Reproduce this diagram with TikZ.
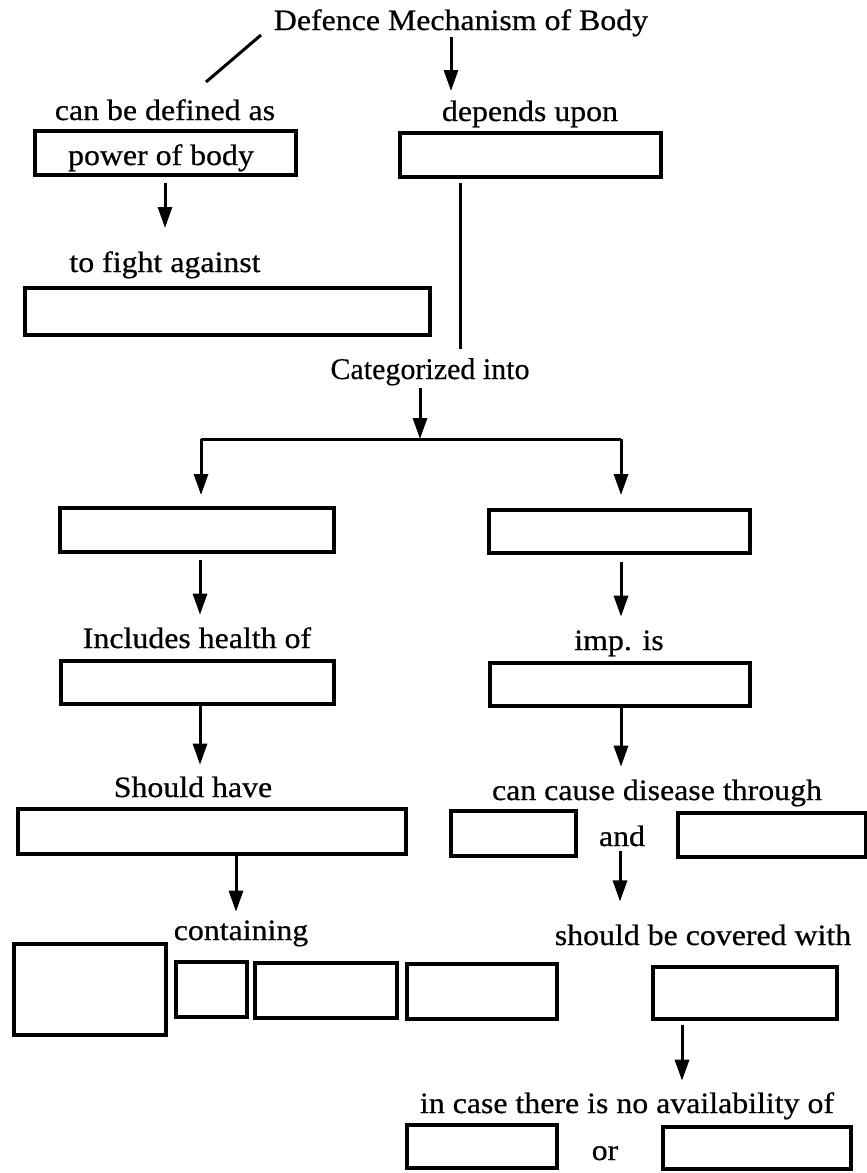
\documentclass[tikz,border=0pt]{standalone}
\usepackage{fontspec}
\setmainfont{Liberation Serif}[FakeStretch=1.08, FakeBold=0.6]
\newfontfamily\catfont{Liberation Serif}[FakeStretch=1.0, FakeBold=0.4]
\usetikzlibrary{arrows.meta}

\tikzset{
  box/.style={draw, line width=3.4pt, inner sep=0pt, minimum width=#1},
  lbl/.style={inner sep=0pt, anchor=base, font=\fontsize{29.5}{33}\selectfont},
  catlbl/.style={inner sep=0pt, anchor=base, font=\catfont\fontsize{30}{33}\selectfont},
  link/.style={line width=3pt},
  arr/.style={line width=3pt, -{Triangle[length=21pt,width=14pt]}},
}

\begin{document}
\begin{tikzpicture}[x=1pt, y=-1pt]
  % page frame
  \fill[white] (0,0) rectangle (867,1173);
  \useasboundingbox (0,0) rectangle (867,1173);

  % ---- top of the map ----
  \node[lbl] (title) at (461,30) {Defence Mechanism of Body};
  \node[lbl] (defl) at (165,120) {can be defined as};
  \node[lbl] (depl) at (530,121) {depends upon};
  \node[box=261pt, minimum height=44pt] (power) at (165.5,153) {};
  \node[lbl] (powert) at (161,165) {power of body};
  \node[box=261pt, minimum height=44pt] (dep) at (530.5,155) {};

  \coordinate (d1) at (261,35);
  \coordinate (d2) at (206,82);
  \draw[link] (d1) -- (d2);
  \coordinate (t1) at (451,37);
  \coordinate (t2) at (451,91);
  \draw[arr] (t1) -- (t2);

  \node[lbl] (fightl) at (165,272) {to fight against};
  \node[box=405pt, minimum height=47pt] (fight) at (227.5,311.5) {};
  \coordinate (p1) at (165,183);
  \coordinate (p2) at (165,228);
  \draw[arr] (p1) -- (p2);

  \coordinate (q1) at (460,183);
  \coordinate (q2) at (460,349);
  \draw[link] (q1) -- (q2);

  % ---- the two categories ----
  \node[catlbl] (catl) at (430,379) {Categorized into};
  \coordinate (c1) at (420,388);
  \coordinate (c2) at (420,439);
  \coordinate (cl) at (201,439);
  \coordinate (cr) at (621,439);
  \draw[arr] (c1) -- (c2);
  \node[box=274pt, minimum height=44pt] (catL) at (197,530) {};
  \node[box=261pt, minimum height=43pt] (catR) at (619.5,531.5) {};
  \draw[link] (cl) -- (cr);
  \draw[arr] (cl) -- ++(0,56);
  \draw[arr] (cr) -- ++(0,56);

  % left branch
  \node[lbl] (inclt) at (197,648) {Includes health of};
  \node[box=273pt, minimum height=43pt] (health) at (197.5,682.5) {};
  \draw[arr] ([yshift=-6pt]catL.south -| 200,0) -- ++(0,55);
  \node[lbl] (shouldt) at (193,797) {Should have};
  \node[box=388pt, minimum height=45pt] (should) at (212,831.5) {};
  \draw[arr] (health.south -| 200,0) -- ++(0,59);
  \node[lbl] (contt) at (241,940) {containing};
  \draw[arr] (should.south -| 236,0) -- ++(0,56);
  \node[box=152pt, minimum height=91pt] (big) at (90,989.5) {};
  \node[box=71pt, minimum height=55pt] (cb1) at (211.5,989.5) {};
  \node[box=142pt, minimum height=55pt] (cb2) at (326,990.5) {};
  \node[box=150pt, minimum height=55pt] (cb3) at (482,991.5) {};

  % right branch
  \node[lbl] (impt) at (619,650) {imp. is};
  \node[box=260pt, minimum height=43pt] (imp) at (620,684.5) {};
  \draw[arr] ([yshift=-7pt]catR.south -| 621,0) -- ++(0,55);
  \node[lbl] (caust) at (657,800) {can cause disease through};
  \draw[arr] (imp.south -| 621,0) -- ++(0,59);
  \node[box=125pt, minimum height=45pt] (cs1) at (513.5,833.5) {};
  \node[lbl] (andt) at (622,846) {and};
  \node[box=188pt, minimum height=44pt] (cs2) at (772,835) {};
  \draw[arr] ([yshift=-5pt]andt.south -| 620,0) -- ++(0,50);
  \node[lbl] (covt) at (703,945) {should be covered with};
  \node[box=184pt, minimum height=52pt] (cover) at (745,993) {};
  \draw[arr] ([yshift=-4pt]cover.south -| 682,0) -- ++(0,56);
  \node[lbl] (availt) at (627,1113) {in case there is no availability of};
  \node[box=150pt, minimum height=43pt] (av1) at (482,1146.5) {};
  \node[lbl] (ort) at (605,1160) {or};
  \node[box=188pt, minimum height=42pt] (av2) at (757,1148) {};
\end{tikzpicture}
\end{document}
